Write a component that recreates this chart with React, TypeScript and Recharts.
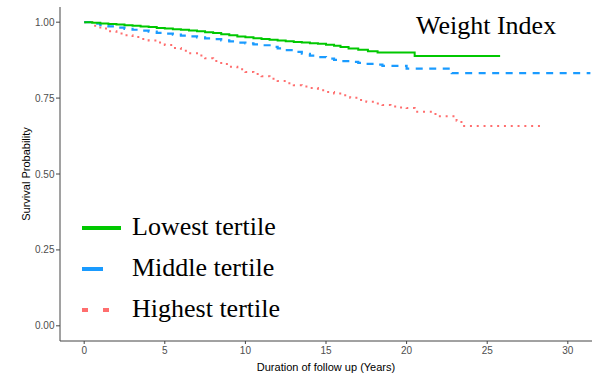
import { Line, LineChart, XAxis, YAxis } from "recharts";

// Kaplan-Meier steps (years, survival probability)
const LOW_T = [0, 0.5, 1, 1.5, 2, 2.5, 3, 3.5, 4, 4.5, 5, 5.5, 6, 6.5, 7, 7.5, 8, 8.5, 9, 9.5, 10, 10.5, 11, 11.5, 12, 12.5, 13, 13.5, 14, 14.5, 15, 15.5, 15.9, 16.4, 17.0, 17.6, 18.2, 20.5, 25.8];
const LOW_S = [1.0, 0.998, 0.996, 0.994, 0.992, 0.99, 0.988, 0.986, 0.984, 0.981, 0.979, 0.977, 0.975, 0.973, 0.97, 0.967, 0.964, 0.96, 0.957, 0.953, 0.95, 0.947, 0.945, 0.942, 0.94, 0.937, 0.935, 0.933, 0.931, 0.929, 0.926, 0.922, 0.918, 0.913, 0.909, 0.904, 0.9, 0.889, 0.889];

const MID_T = [0, 0.5, 1, 1.5, 2, 2.5, 3, 3.5, 4, 4.5, 5, 5.5, 6, 6.5, 7, 7.5, 8, 8.5, 9, 9.5, 10, 10.5, 11, 11.5, 12, 12.5, 13, 13.5, 14, 14.5, 15, 15.5, 16, 16.5, 17, 17.5, 18, 18.5, 20, 22.8, 31.4];
const MID_S = [1.0, 0.995, 0.99, 0.986, 0.982, 0.978, 0.975, 0.972, 0.969, 0.965, 0.962, 0.959, 0.956, 0.953, 0.95, 0.947, 0.944, 0.94, 0.937, 0.933, 0.93, 0.927, 0.924, 0.919, 0.914, 0.908, 0.902, 0.896, 0.89, 0.885, 0.88, 0.876, 0.872, 0.869, 0.866, 0.863, 0.86, 0.856, 0.847, 0.832, 0.832];

const HIGH_T = [0, 0.5, 1, 1.5, 2, 2.5, 3, 3.5, 4, 4.5, 5, 5.5, 6, 6.5, 7, 7.5, 8, 8.5, 9, 9.5, 10, 10.5, 11, 11.5, 12, 12.5, 13, 13.5, 14, 14.5, 15, 15.5, 16, 16.5, 17, 17.5, 18, 18.5, 19, 19.5, 20, 20.5, 21.6, 21.9, 23.1, 23.4, 28.5];
const HIGH_S = [1.0, 0.988, 0.979, 0.97, 0.963, 0.957, 0.951, 0.945, 0.94, 0.933, 0.925, 0.915, 0.906, 0.898, 0.89, 0.881, 0.872, 0.862, 0.853, 0.845, 0.836, 0.829, 0.822, 0.814, 0.806, 0.799, 0.792, 0.788, 0.783, 0.776, 0.77, 0.765, 0.759, 0.751, 0.744, 0.738, 0.732, 0.727, 0.722, 0.719, 0.717, 0.705, 0.698, 0.69, 0.675, 0.658, 0.658];

const X_TICKS = [0, 5, 10, 15, 20, 25, 30];
const Y_TICKS = [0, 0.25, 0.5, 0.75, 1];

const GREEN = "#00C800";
const BLUE = "#1A9BFF";
const RED = "#FF6E6E";

const SANS = "'Liberation Sans', Arial, sans-serif";
const SERIF = "'Liberation Serif', 'Times New Roman', serif";
const AXIS_COLOR = "#444";
const TICK = { fill: "#4D4D4D", fontSize: 10, fontFamily: SANS };

const toRows = (t: number[], s: number[]) => t.map((x, i) => ({ t: x, s: s[i] }));

const LEGEND_ITEMS = [
  { label: "Lowest tertile", color: GREEN, dash: undefined, len: 39 },
  { label: "Middle tertile", color: BLUE, dash: undefined, len: 21 },
  { label: "Highest tertile", color: RED, dash: "6 15", len: 30 },
];

// legend sits inside the panel, bottom-left, drawn on top of the chart
function KeyLegend() {
  return (
    <svg
      width={240}
      height={130}
      style={{ position: "absolute", left: 80, top: 210, pointerEvents: "none" }}
    >
      {LEGEND_ITEMS.map((it, i) => {
        const y = 18 + i * 41;
        return (
          <g key={it.label}>
            <line
              x1={2}
              x2={2 + it.len}
              y1={y}
              y2={y}
              stroke={it.color}
              strokeWidth={4}
              strokeDasharray={it.dash}
            />
            <text x={52} y={y + 7} fontFamily={SERIF} fontSize={26} fill="#000">
              {it.label}
            </text>
          </g>
        );
      })}
    </svg>
  );
}

export default function App() {
  return (
    <div style={{ position: "absolute", left: 0, top: 0, width: 598, height: 379, background: "#fff" }}>
      <LineChart width={598} height={379} margin={{ top: 7, right: 6, bottom: 0, left: 0 }}>
        <XAxis
          type="number"
          dataKey="t"
          domain={[-1.5, 31.5]}
          ticks={X_TICKS}
          allowDuplicatedCategory={false}
          height={38}
          tick={TICK}
          tickSize={3}
          tickMargin={3}
          stroke={AXIS_COLOR}
          label={({ viewBox }: any) => (
            <text
              x={viewBox.x + viewBox.width / 2}
              y={371}
              textAnchor="middle"
              fontFamily={SANS}
              fontSize={11}
              fill="#000"
            >
              Duration of follow up (Years)
            </text>
          )}
        />
        <YAxis
          type="number"
          domain={[-0.05, 1.05]}
          ticks={Y_TICKS}
          width={60}
          tick={TICK}
          tickSize={4}
          tickMargin={1.5}
          tickFormatter={(v: number) => v.toFixed(2)}
          stroke={AXIS_COLOR}
          label={({ viewBox }: any) => {
            const cy = viewBox.y + viewBox.height / 2;
            return (
              <text
                x={26}
                y={cy}
                transform={`rotate(-90 26 ${cy})`}
                textAnchor="middle"
                dominantBaseline="central"
                fontFamily={SANS}
                fontSize={11}
                fill="#000"
              >
                Survival Probability
              </text>
            );
          }}
        />
        <Line
          data={toRows(HIGH_T, HIGH_S)}
          dataKey="s"
          type="stepAfter"
          stroke={RED}
          strokeWidth={2}
          strokeDasharray="2 4.8"
          dot={false}
          isAnimationActive={false}
          name="Highest tertile"
        />
        <Line
          data={toRows(MID_T, MID_S)}
          dataKey="s"
          type="stepAfter"
          stroke={BLUE}
          strokeWidth={2.2}
          strokeDasharray="7 6.5"
          dot={false}
          isAnimationActive={false}
          name="Middle tertile"
        />
        <Line
          data={toRows(LOW_T, LOW_S)}
          dataKey="s"
          type="stepAfter"
          stroke={GREEN}
          strokeWidth={2}
          dot={false}
          isAnimationActive={false}
          name="Lowest tertile"
        />
      </LineChart>
      <KeyLegend />
      <svg
        width={598}
        height={379}
        style={{ position: "absolute", left: 0, top: 0, pointerEvents: "none" }}
      >
        <text x={416} y={34} fontFamily={SERIF} fontSize={26} fill="#000">
          Weight Index
        </text>
      </svg>
    </div>
  );
}
